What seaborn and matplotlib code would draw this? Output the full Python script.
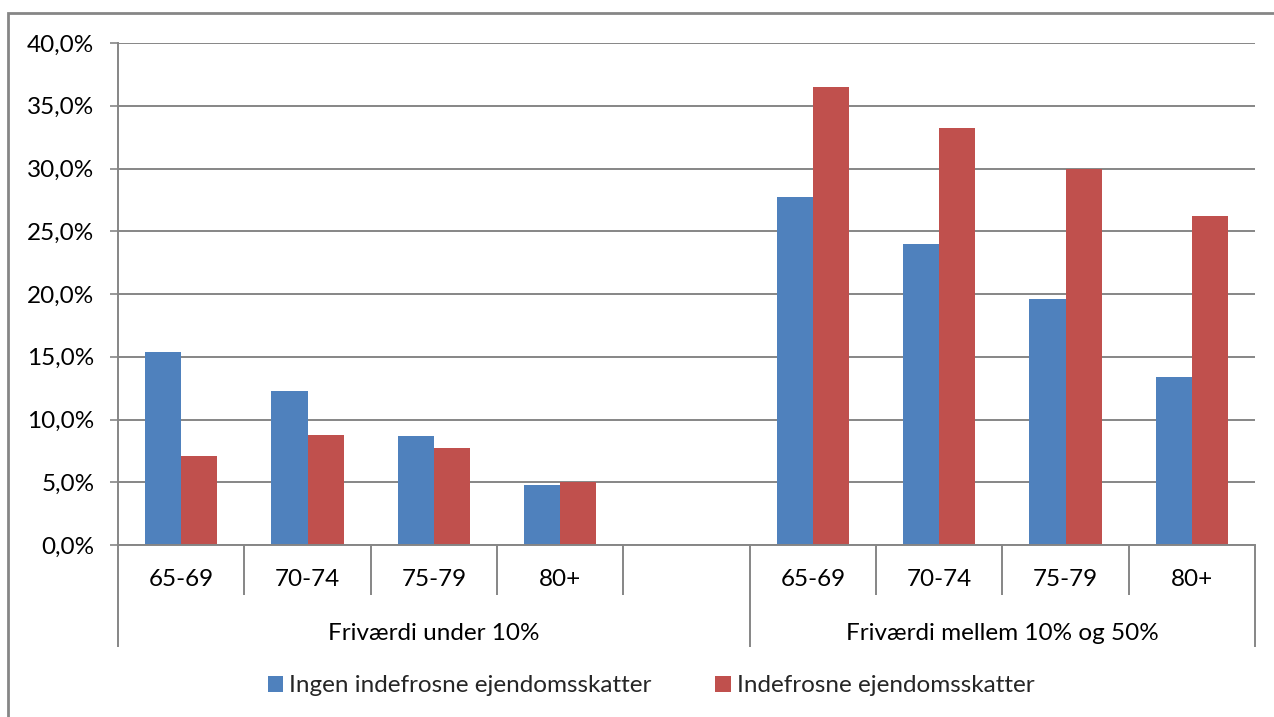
import matplotlib
matplotlib.use("Agg")
import matplotlib.pyplot as plt
from matplotlib.patches import Rectangle
import matplotlib.transforms as mtransforms
import numpy as np
import pandas as pd
import seaborn as sns

# Age groups within each home-equity segment
age_groups = ["65-69", "70-74", "75-79", "80+"]
segments = ["Friværdi under 10%", "Friværdi mellem 10% og 50%"]
series_names = ["Ingen indefrosne ejendomsskatter", "Indefrosne ejendomsskatter"]

# Shares in percent
ingen_low = [15.4, 12.3, 8.7, 4.8]
indefrosne_low = [7.1, 8.8, 7.7, 5.0]
ingen_mid = [27.7, 24.0, 19.6, 13.4]
indefrosne_mid = [36.5, 33.2, 30.0, 26.2]

y_ticks = [0, 5, 10, 15, 20, 25, 30, 35, 40]

BLUE = "#4F81BD"
RED = "#C0504D"
GRID = "#868686"
FS = 17.5

# Slots 0-3: first segment, slot 4: empty spacer, slots 5-8: second segment
slot_order = [str(i) for i in range(9)]
rows = []
for i, age in enumerate(age_groups):
    rows.append((str(i), series_names[0], ingen_low[i]))
    rows.append((str(i), series_names[1], indefrosne_low[i]))
    rows.append((str(i + 5), series_names[0], ingen_mid[i]))
    rows.append((str(i + 5), series_names[1], indefrosne_mid[i]))
df = pd.DataFrame(rows, columns=["slot", "serie", "andel"])

sns.set_theme(style="white")
plt.rcParams["font.family"] = ["Lato", "DejaVu Sans"]

W, H = 1274, 717
fig = plt.figure(figsize=(W / 100, H / 100), dpi=100)
ax = fig.add_axes([118 / W, 1 - 545 / H, (1255 - 118) / W, (545 - 43) / H])

sns.barplot(data=df, x="slot", y="andel", hue="serie", order=slot_order,
            hue_order=series_names, palette=[BLUE, RED], width=0.57,
            saturation=1, ax=ax, linewidth=0)

handles, labels = ax.get_legend_handles_labels()
if ax.get_legend() is not None:
    ax.get_legend().remove()

ax.set_xlim(-0.5, 8.5)
ax.set_ylim(0, 40)
ax.set_yticks(y_ticks)
ax.set_yticklabels([f"{v:.1f}%".replace(".", ",") for v in y_ticks], fontsize=FS, color="black")
ax.set_xticks([])
ax.set_xlabel("")
ax.set_ylabel("")
ax.set_axisbelow(True)
ax.yaxis.grid(True, color=GRID, linewidth=1.4)
ax.tick_params(axis="y", which="major", left=True, length=6, width=1.2, color=GRID, pad=11)

for side in ["top", "right"]:
    ax.spines[side].set_visible(False)
for side in ["left", "bottom"]:
    ax.spines[side].set_color(GRID)
    ax.spines[side].set_linewidth(1.4)

# Two-level category axis
trans = mtransforms.blended_transform_factory(ax.transData, ax.transAxes)
ax_h = 545 - 43
inner_depth = -50 / ax_h
outer_depth = -102 / ax_h
for b in np.arange(-0.5, 9.0, 1.0):
    depth = outer_depth if b in (-0.5, 4.5, 8.5) else inner_depth
    ax.plot([b, b], [0, depth], transform=trans, color=GRID, lw=1.4,
            clip_on=False, solid_capstyle="butt")

for i, age in enumerate(age_groups):
    for pos in (i, i + 5):
        ax.text(pos, -34 / ax_h, age, transform=trans, ha="center", va="center",
                fontsize=FS, color="black")
ax.text(2.0, -88 / ax_h, segments[0], transform=trans, ha="center",
        va="center", fontsize=FS, color="black")
ax.text(6.5, -88 / ax_h, segments[1], transform=trans, ha="center",
        va="center", fontsize=FS, color="black")

# Chart frame
fig.patches.append(Rectangle((8 / W, -0.05), 1.1, 1 - 13 / H + 0.05,
                             transform=fig.transFigure, fill=False,
                             edgecolor=GRID, linewidth=2.0, zorder=0))

fig.legend(handles, labels, loc="center", bbox_to_anchor=(651 / W, 1 - 686 / H),
           ncol=2, frameon=False, fontsize=FS, handlelength=0.65,
           handleheight=0.65, handletextpad=0.25, columnspacing=2.6)

fig.savefig("out.png", dpi=100, facecolor="white")
